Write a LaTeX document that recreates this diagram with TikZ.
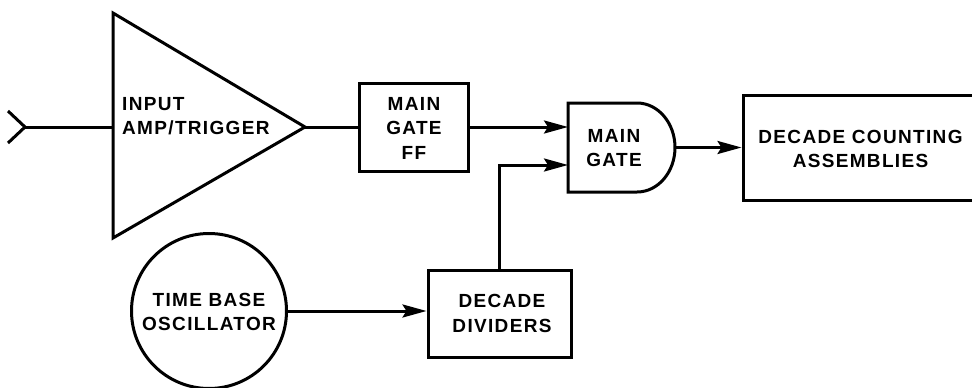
\documentclass[tikz,border=0pt]{standalone}
\usepackage{fontspec}
\newfontfamily\labfont{Liberation Sans}[LetterSpace=7]
\usetikzlibrary{arrows.meta}
\tikzset{
  wire/.style={line width=3pt, line cap=butt, line join=miter},
  arr/.style={wire, -{Stealth[length=24pt,width=13pt,inset=4pt]}},
  blk/.style={draw, line width=3pt, inner sep=0pt},
  lbl/.style={font=\labfont\bfseries\fontsize{19}{24.5}\selectfont, align=center, inner sep=0pt},
}
\begin{document}
\begin{tikzpicture}[x=1pt,y=-1pt]
\useasboundingbox (0,0) rectangle (972,388);
\fill[white] (0,0) rectangle (972,388);
\clip (0,0) rectangle (972,388);

% input chevron and amplifier
\coordinate (inp) at (25,127);
\coordinate (ampin) at (113,127);
\coordinate (ampout) at (305,127);
\draw[wire] (8,111) -- (inp) -- (8,143);
\draw[wire] (113,13) -- (ampout) -- (113,238) -- cycle;
\node[lbl, align=left, anchor=west] (amp) at (122,116) {INPUT\\AMP/TRIGGER};
\draw[wire] (inp) -- (ampin);

% main gate flip-flop
\node[blk, minimum width=109pt, minimum height=88pt] (ff) at (413.5,127) {};
\node[lbl] (fft) at (414,128) {MAIN\\GATE\\FF};

% main gate (AND)
\coordinate (gin1) at (568,127);
\coordinate (gin2) at (568,165);
\coordinate (gout) at (675,147.5);
\draw[wire] (568,103) -- (637,103) arc[start angle=-90, end angle=90, x radius=38, y radius=44.5] -- (568,192) -- cycle;
\node[lbl] (gt) at (614,148) {MAIN\\GATE};

% decade counting assemblies
\node[blk, minimum width=250pt, minimum height=105pt] (dca) at (868,147.5) {};
\node[lbl, font=\labfont\bfseries\fontsize{19}{24}\selectfont] (dcat) at (860.5,149) {DECADE COUNTING\\ASSEMBLIES};

% time base oscillator
\node[blk, circle, minimum size=155pt] (osc) at (209,311) {};
\node[lbl] (osct) at (209,312) {TIME BASE\\OSCILLATOR};

% decade dividers
\node[blk, minimum width=143pt, minimum height=87pt] (ddv) at (499.5,313.5) {};
\node[lbl] (ddvt) at (502,313.5) {DECADE\\DIVIDERS};

% connectors
\draw[wire] (ampout) -- (ff.west);
\draw[arr] (ff.east) -- (gin1);
\draw[arr] (gout) -- (dca.west);
\draw[arr] (osc.east) -- (osc.east -| ddv.west);
\draw[arr] (ddv.north) |- (gin2);
\end{tikzpicture}
\end{document}
